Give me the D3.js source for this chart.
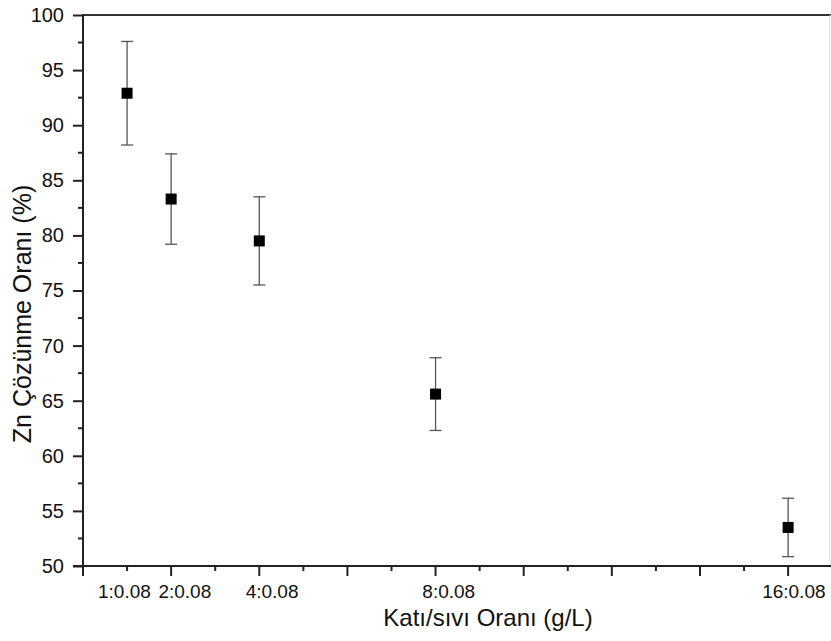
<!DOCTYPE html>
<html><head><meta charset="utf-8">
<script src="https://cdn.jsdelivr.net/npm/d3@7"></script>
<style>body{margin:0;background:#fff}svg{display:block}text{font-family:"Liberation Sans",Arial,sans-serif;fill:#111}</style>
</head><body>
<svg id="c" width="831" height="641"></svg>
<script>
const xValues = [1, 2, 4, 8, 16];
const xLabels = ["1:0.08", "2:0.08", "4:0.08", "8:0.08", "16:0.08"];
// where each label's centre sits on the x scale
const xLabelAt = [0.94, 2.31, 4.29, 8.3, 16.13];
const yValues = [92.9, 83.3, 79.5, 65.6, 53.5];
const yErrors = [4.7, 4.1, 4.0, 3.3, 2.65];
const yTicks = [50, 55, 60, 65, 70, 75, 80, 85, 90, 95, 100];
const xTitle = "Katı/sıvı Oranı (g/L)";
const yTitle = "Zn Çözünme Oranı (%)";

const svg = d3.select("#c");
const L = 83, R = 830, T = 15, B = 566;
const x = d3.scaleLinear().domain([0, 16.95]).range([L, L + 16.95 * 44.07]);
const y = d3.scaleLinear().domain([50, 100]).range([B, T]);

// frame: top dark, right light
svg.append("line").attr("x1", L).attr("x2", 831).attr("y1", T).attr("y2", T).attr("stroke", "#333").attr("stroke-width", 2);
svg.append("line").attr("x1", R).attr("x2", R).attr("y1", T).attr("y2", B).attr("stroke", "#ddd").attr("stroke-width", 1);

// y axis
const yAx = svg.append("g").attr("transform", `translate(${L},0)`)
  .call(d3.axisLeft(y).tickValues(yTicks).tickSize(10).tickPadding(9).tickFormat(d3.format("d")));
yAx.select(".domain").remove();
yAx.selectAll("line").attr("stroke", "#222").attr("stroke-width", 2);
yAx.selectAll("text").attr("font-size", 20).attr("fill", "#111").style("font-family", "Liberation Sans, Arial, sans-serif");
const yMinor = d3.range(52.5, 100, 5);
svg.append("g").selectAll("line").data(yMinor).join("line")
  .attr("x1", L - 5).attr("x2", L).attr("y1", d => y(d)).attr("y2", d => y(d)).attr("stroke", "#222").attr("stroke-width", 2);
svg.append("line").attr("x1", L).attr("x2", L).attr("y1", T - 1).attr("y2", B + 1).attr("stroke", "#222").attr("stroke-width", 2);

// x axis
const xMajor = d3.range(0, 17, 2), xMinor = d3.range(1, 17, 2);
svg.append("g").selectAll("line").data(xMajor).join("line")
  .attr("x1", d => x(d)).attr("x2", d => x(d)).attr("y1", B).attr("y2", B + 10).attr("stroke", "#222").attr("stroke-width", 2);
svg.append("g").selectAll("line").data(xMinor).join("line")
  .attr("x1", d => x(d)).attr("x2", d => x(d)).attr("y1", B).attr("y2", B + 5).attr("stroke", "#222").attr("stroke-width", 2);
svg.append("line").attr("x1", L - 10).attr("x2", 831).attr("y1", B).attr("y2", B).attr("stroke", "#222").attr("stroke-width", 2);
svg.append("g").selectAll("text").data(xLabelAt).join("text")
  .attr("x", d => x(d)).attr("y", 598).attr("text-anchor", "middle").attr("font-size", 19)
  .text((d, i) => xLabels[i]);

// titles
svg.append("text").attr("x", 488).attr("y", 626).attr("text-anchor", "middle").attr("font-size", 24).text(xTitle);
svg.append("text").attr("transform", "translate(31,314) rotate(-90)").attr("text-anchor", "middle").attr("font-size", 25).text(yTitle);

// error bars
const g = svg.append("g");
const pts = xValues.map((v, i) => ({x: v, y: yValues[i], e: yErrors[i]}));
g.selectAll(".eb").data(pts).join("line").attr("class", "eb")
  .attr("x1", d => x(d.x)).attr("x2", d => x(d.x)).attr("y1", d => y(d.y + d.e)).attr("y2", d => y(d.y - d.e))
  .attr("stroke", "#555").attr("stroke-width", 1.3);
["+", "-"].forEach(s => {
  g.selectAll(".cap" + (s === "+" ? "t" : "b")).data(pts).join("line").attr("class", "cap" + (s === "+" ? "t" : "b"))
    .attr("x1", d => x(d.x) - 6).attr("x2", d => x(d.x) + 6)
    .attr("y1", d => y(s === "+" ? d.y + d.e : d.y - d.e)).attr("y2", d => y(s === "+" ? d.y + d.e : d.y - d.e))
    .attr("stroke", "#555").attr("stroke-width", 1.3);
});
g.selectAll("rect").data(pts).join("rect")
  .attr("x", d => x(d.x) - 5.5).attr("y", d => y(d.y) - 5.5).attr("width", 11).attr("height", 11).attr("fill", "#000");
</script>
</body></html>
